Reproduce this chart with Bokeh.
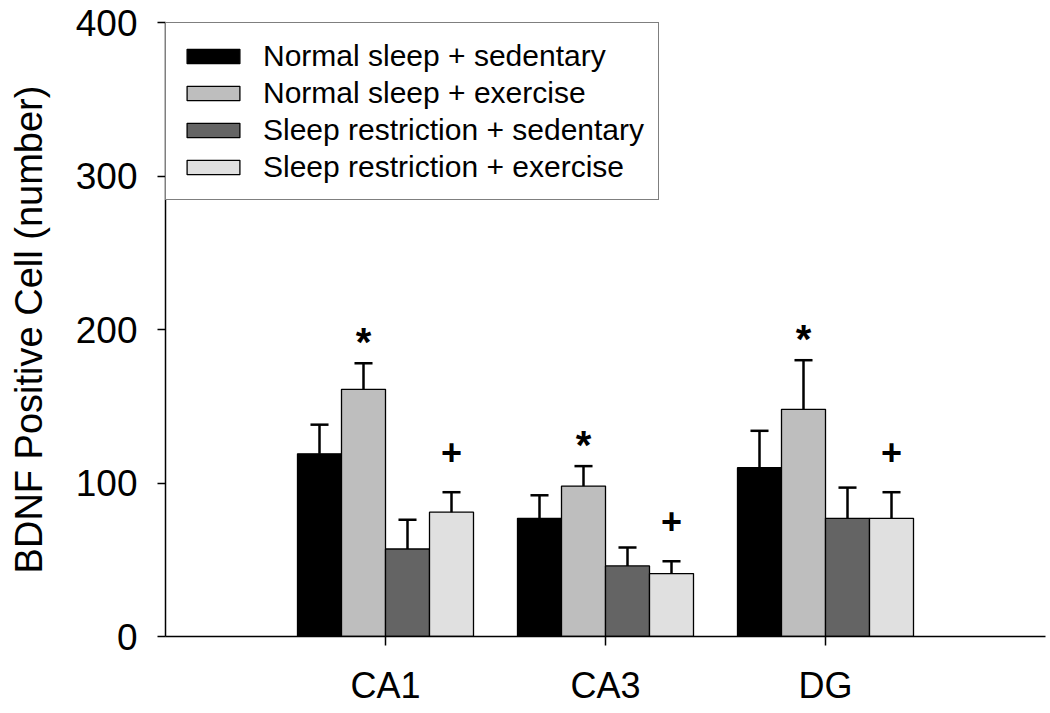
from bokeh.plotting import figure
from bokeh.models import Range1d, FixedTicker, Legend, LegendItem
from bokeh.core.properties import value
from bokeh.embed import file_html
from bokeh.resources import INLINE

# ---- data ----
categories = ["CA1", "CA3", "DG"]
groups = ["Normal sleep + sedentary", "Normal sleep + exercise",
          "Sleep restriction + sedentary", "Sleep restriction + exercise"]
ns_sedentary = [119, 77, 110]
ns_exercise = [161, 98, 148]
sr_sedentary = [57, 46, 77]
sr_exercise = [81, 41, 77]
ns_sedentary_err = [19, 15, 24]
ns_exercise_err = [17, 13, 32]
sr_sedentary_err = [19, 12, 20]
sr_exercise_err = [13, 8, 17]
y_ticks = [0, 100, 200, 300, 400]

means = [ns_sedentary, ns_exercise, sr_sedentary, sr_exercise]
errs = [ns_sedentary_err, ns_exercise_err, sr_sedentary_err, sr_exercise_err]
colors = ["#000000", "#BEBEBE", "#646464", "#E0E0E0"]
offsets = [-0.3, -0.1, 0.1, 0.3]
bar_w = 0.2
FONT = "Liberation Sans"

p = figure(frame_width=880, frame_height=614, output_backend="svg", toolbar_location=None,
           x_range=Range1d(0, 4), y_range=Range1d(0, 400),
           min_border_left=165, min_border_top=22, min_border_bottom=72, min_border_right=3)
p.outline_line_color = None
p.xgrid.visible = False
p.ygrid.visible = False
p.background_fill_color = "white"
p.border_fill_color = "white"

base_x = [i + 1 for i in range(len(categories))]
items = []
for k in range(4):
    xs = [b + offsets[k] for b in base_x]
    r = p.vbar(x=xs, top=means[k], width=bar_w, bottom=0, fill_color=colors[k],
               line_color="black", line_width=1.3)
    items.append(LegendItem(label=groups[k], renderers=[r]))
    tops = [m + e for m, e in zip(means[k], errs[k])]
    p.segment(x0=xs, y0=means[k], x1=xs, y1=tops, line_color="black", line_width=2.5)
    cap = 0.041
    p.segment(x0=[x - cap for x in xs], y0=tops, x1=[x + cap for x in xs], y1=tops,
              line_color="black", line_width=2.5)

# significance marks
star_x = [b + offsets[1] for b in base_x]
star_y = [m + e + 14 for m, e in zip(ns_exercise, ns_exercise_err)]
plus_x = [b + offsets[3] for b in base_x]
plus_y = [m + e + 26 for m, e in zip(sr_exercise, sr_exercise_err)]
p.text(x=star_x, y=star_y, text=["*"] * 3, text_font=value(FONT), text_font_size="40px",
       text_font_style="bold", text_align="center", text_baseline="middle", text_color="black")
p.text(x=plus_x, y=plus_y, text=["+"] * 3, text_font=value(FONT), text_font_size="36px",
       text_font_style="bold", text_align="center", text_baseline="middle", text_color="black")

legend = Legend(items=items, location="top_left", margin=0, padding=14, spacing=0,
                glyph_width=66, glyph_height=18, label_height=37, label_standoff=17,
                label_text_font=FONT, label_text_font_size="30px", label_text_color="black",
                border_line_color="black", border_line_width=1.5,
                background_fill_color="white", background_fill_alpha=1.0)
p.add_layout(legend)

# axes
for ax in (p.xaxis[0], p.yaxis[0]):
    ax.axis_line_color = "black"
    ax.axis_line_width = 1.5
    ax.major_tick_line_color = "black"
    ax.major_tick_line_width = 1.5
    ax.major_tick_in = 0
    ax.minor_tick_line_color = None
    ax.major_label_text_font = FONT
    ax.major_label_text_color = "black"
    ax.axis_label_text_font = FONT
    ax.axis_label_text_font_style = "normal"
    ax.axis_label_text_color = "black"

p.yaxis.ticker = FixedTicker(ticks=y_ticks)
p.yaxis.major_tick_out = 8
p.yaxis.major_label_text_font_size = "37px"
p.yaxis.major_label_standoff = 20
p.yaxis.axis_label = "BDNF Positive Cell (number)"
p.yaxis.axis_label_text_font_size = "38px"
p.yaxis.axis_label_standoff = 23

p.xaxis.ticker = FixedTicker(ticks=base_x)
p.xaxis.major_label_overrides = {b: c for b, c in zip(base_x, categories)}
p.xaxis.major_tick_out = 9
p.xaxis.major_label_text_font_size = "36px"
p.xaxis.major_label_standoff = 19

open("out.html", "w").write(file_html(p, INLINE))
